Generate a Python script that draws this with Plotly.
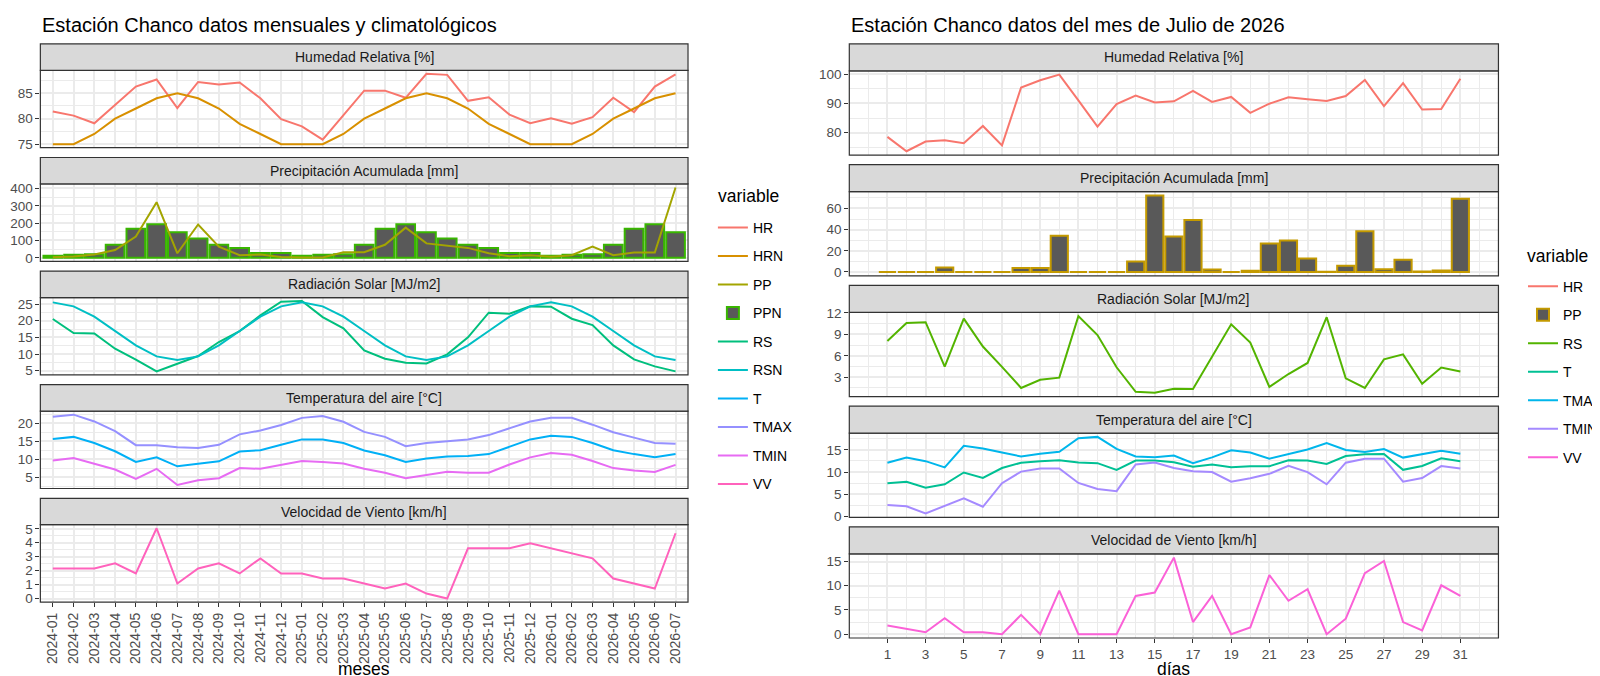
import plotly.graph_objects as go

# ---------------- DATA: monthly (left) ----------------
months = ["2024-01", "2024-02", "2024-03", "2024-04", "2024-05", "2024-06", "2024-07",
          "2024-08", "2024-09", "2024-10", "2024-11", "2024-12", "2025-01", "2025-02",
          "2025-03", "2025-04", "2025-05", "2025-06", "2025-07", "2025-08", "2025-09",
          "2025-10", "2025-11", "2025-12", "2026-01", "2026-02", "2026-03", "2026-04",
          "2026-05", "2026-06", "2026-07"]
HR = [81.4, 80.6, 79.1, 82.7, 86.3, 87.7, 82.1, 87.2, 86.7, 87.1, 84.0, 79.9, 78.5, 75.9,
      80.8, 85.5, 85.5, 84.1, 88.8, 88.6, 83.5, 84.2, 80.8, 79.1, 80.1, 79.0, 80.3, 84.1,
      81.3, 86.3, 88.7]
HRN = [75, 75, 77, 80, 82, 84, 85, 84, 82, 79, 77, 75, 75, 75, 77, 80, 82, 84, 85, 84, 82,
       79, 77, 75, 75, 75, 77, 80, 82, 84, 85]
PP = [3, 8, 19, 45, 123, 321, 26, 192, 64, 15, 19, 4, 2, 2, 32, 32, 75, 174, 83, 70, 57,
      26, 9, 15, 6, 15, 64, 15, 30, 30, 406]
PPN = [12, 18, 20, 75, 168, 194, 147, 111, 75, 57, 28, 28, 12, 18, 20, 75, 168, 194, 147,
       111, 75, 57, 28, 28, 12, 18, 20, 75, 168, 194, 147]
RS = [20.5, 16.3, 16.2, 11.6, 8.3, 4.8, 7.1, 9.4, 13.6, 16.9, 21.6, 25.7, 25.9, 21.1, 17.7,
      11.1, 8.6, 7.4, 7.2, 9.9, 15.0, 22.4, 22.1, 24.3, 24.2, 20.6, 18.7, 12.6, 8.4, 6.3, 4.8]
RSN = [25.5, 24.3, 21.2, 16.9, 12.6, 9.3, 8.2, 9.3, 12.6, 16.9, 21.2, 24.3, 25.5, 24.3,
       21.2, 16.9, 12.6, 9.3, 8.2, 9.3, 12.6, 16.9, 21.2, 24.3, 25.5, 24.3, 21.2, 16.9,
       12.6, 9.3, 8.2]
T = [15.6, 16.2, 14.5, 12.2, 9.2, 10.5, 8.0, 8.6, 9.4, 12.1, 12.5, 14.0, 15.5, 15.5, 14.5,
     12.4, 11.1, 9.2, 10.2, 10.7, 10.9, 11.4, 13.5, 15.5, 16.5, 16.2, 14.5, 12.5, 11.4, 10.5, 11.4]
TMAX = [21.8, 22.4, 20.5, 17.8, 13.9, 13.9, 13.3, 13.1, 14.0, 16.9, 18.0, 19.5, 21.5, 22.0,
        20.4, 17.6, 16.2, 13.6, 14.5, 14.9, 15.5, 16.7, 18.5, 20.5, 21.5, 21.5, 19.6, 17.5,
        16.0, 14.5, 14.3]
TMIN = [9.6, 10.3, 8.7, 7.1, 4.5, 7.3, 2.8, 4.1, 4.7, 7.5, 7.3, 8.5, 9.5, 9.2, 8.8, 7.3,
        6.2, 4.7, 5.7, 6.5, 6.2, 6.2, 8.5, 10.5, 11.7, 11.2, 9.5, 7.5, 6.8, 6.4, 8.4]
VV = [2.16, 2.16, 2.16, 2.52, 1.8, 5.04, 1.08, 2.16, 2.52, 1.8, 2.88, 1.8, 1.8, 1.44, 1.44,
      1.08, 0.72, 1.08, 0.36, 0.0, 3.6, 3.6, 3.6, 3.96, 3.6, 3.24, 2.88, 1.44, 1.08, 0.72, 4.68]

# ---------------- DATA: daily July 2026 (right) ----------------
days = list(range(1, 32))
day_ticks = list(range(1, 32, 2))
HR_d = [78.6, 73.7, 77.0, 77.4, 76.4, 82.3, 75.7, 95.4, 97.9, 99.8, 91.0, 82.1, 89.8, 92.7,
        90.3, 90.7, 94.3, 90.5, 92.2, 86.8, 89.9, 92.1, 91.4, 90.8, 92.5, 98.0, 89.1, 96.9,
        87.9, 88.1, 98.4]
PP_d = [0, 0, 0, 4.3, 0, 0, 0, 3.7, 3.7, 34.1, 0, 0, 0, 9.8, 72.3, 33.5, 49.1, 2.4, 0, 1.2,
        26.8, 29.8, 12.6, 0.3, 5.8, 38.4, 2.6, 11.5, 0.5, 1.4, 69.2]
RS_d = [8.07, 10.6, 10.7, 4.5, 11.2, 7.3, 4.45, 1.5, 2.65, 2.95, 11.55, 8.9, 4.4, 0.97, 0.84,
        1.4, 1.35, 5.9, 10.4, 7.85, 1.65, 3.45, 5.0, 11.4, 2.85, 1.5, 5.5, 6.2, 2.1, 4.37, 3.8]
T_d = [7.5, 7.8, 6.5, 7.25, 9.9, 8.7, 10.9, 12.1, 12.45, 12.65, 12.15, 12.0, 10.5, 12.6,
       12.6, 12.2, 11.2, 11.7, 11.1, 11.3, 11.3, 12.65, 12.6, 11.8, 13.6, 14.0, 14.05, 10.5,
       11.35, 13.1, 12.45]
TMAX_d = [12.1, 13.25, 12.45, 11.05, 15.9, 15.3, 14.4, 13.5, 14.1, 14.55, 17.6, 17.9, 15.2,
          13.5, 13.3, 13.7, 12.0, 13.3, 14.9, 14.4, 13.0, 13.95, 15.05, 16.5, 14.95, 14.5,
          15.15, 13.25, 14.0, 14.8, 14.1]
TMIN_d = [2.6, 2.3, 0.7, 2.4, 4.1, 2.2, 7.5, 10.1, 10.8, 10.8, 7.55, 6.2, 5.7, 11.7, 12.15,
          10.9, 10.2, 10.0, 7.85, 8.6, 9.6, 11.4, 10.0, 7.25, 12.1, 13.0, 13.0, 7.85, 8.65,
          11.35, 10.8]
VV_d = [1.8, 1.1, 0.4, 3.3, 0.4, 0.4, 0.0, 4.0, 0.0, 9.0, 0.0, 0.0, 0.0, 7.9, 8.6, 15.8,
        2.5, 7.9, 0.0, 1.4, 12.2, 6.9, 9.3, 0.0, 3.2, 12.6, 15.1, 2.5, 0.8, 10.1, 7.9]

facet_titles = ["Humedad Relativa [%]", "Precipitación Acumulada [mm]",
                "Radiación Solar [MJ/m2]", "Temperatura del aire [°C]",
                "Velocidad de Viento [km/h]"]

col_left = {"HR": "#F8766D", "HRN": "#D89000", "PP": "#A3A500", "PPN": "#39B600",
            "RS": "#00BF7D", "RSN": "#00BFC4", "T": "#00B0F6", "TMAX": "#9590FF",
            "TMIN": "#E76BF3", "VV": "#FF62BC"}
col_right = {"HR": "#F8766D", "PP": "#C49A00", "RS": "#53B400", "T": "#00C094",
             "TMAX": "#00B6EB", "TMIN": "#A58AFF", "VV": "#FB61D7"}

W, H = 1600, 676
FONT = "Liberation Sans, Arial, sans-serif"
GRID = "#EBEBEB"
DARK = "#333333"


def fx(p):
    return p / W


def fy(p):
    return 1 - p / H


fig = go.Figure()
layout = {}
shapes = []
annotations = []

# geometry (pixels)
LX = (32.5, 683.0)
RX = (845.0, 1497.0)
left_geom = [(29.5 + 116.0 * k, 27.0, 79.0) for k in range(5)]
right_geom = [(29.5 + 123.3 * k, 27.5, 86.0) for k in range(5)]

left_series = [
    [("HR", HR, "line"), ("HRN", HRN, "line")],
    [("PP", PP, "line"), ("PPN", PPN, "bar")],
    [("RS", RS, "line"), ("RSN", RSN, "line")],
    [("T", T, "line"), ("TMAX", TMAX, "line"), ("TMIN", TMIN, "line")],
    [("VV", VV, "line")],
]
right_series = [
    [("HR", HR_d, "line")],
    [("PP", PP_d, "bar")],
    [("RS", RS_d, "line")],
    [("T", T_d, "line"), ("TMAX", TMAX_d, "line"), ("TMIN", TMIN_d, "line")],
    [("VV", VV_d, "line")],
]
left_dtick = [5, 100, 5, 5, 1]
right_dtick = [10, 20, 3, 5, 5]


def yrange(series, bar):
    vals = [v for s in series for v in s[1]]
    mn, mx = min(vals), max(vals)
    if bar:
        mn = min(mn, 0)
    d = (mx - mn) * 0.05
    return [mn - d, mx + d]


left_rank = {n: i for i, n in enumerate(col_left)}
right_rank = {n: i for i, n in enumerate(col_right)}


def add_panel(idx, k, xgeom, geom, series, colors, ranks, legend, is_left, dtick, last):
    top, sh, ph = geom
    xs = "" if idx == 1 else str(idx)
    xa, ya = "x" + xs, "y" + xs
    has_bar = any(s[2] == "bar" for s in series)
    for name, vals, kind in series:
        xv = months if is_left else days
        if kind == "bar":
            tr = go.Bar(x=xv, y=vals, name=name, width=0.9,
                        marker=dict(color="#595959",
                                    line=dict(color=colors[name], width=2)),
                        xaxis=xa, yaxis=ya, legend=legend, legendrank=ranks[name],
                        legendgroup=name + legend)
        else:
            tr = go.Scatter(x=xv, y=vals, name=name, mode="lines",
                            line=dict(color=colors[name], width=2),
                            xaxis=xa, yaxis=ya, legend=legend, legendrank=ranks[name],
                            legendgroup=name + legend)
        fig.add_trace(tr)
    ptop = top + sh
    pbot = ptop + ph
    xdict = dict(domain=[fx(xgeom[0]), fx(xgeom[1])], anchor=ya,
                 showgrid=True, gridcolor=GRID, gridwidth=2, zeroline=False,
                 showline=False, ticks="outside" if last else "",
                 ticklen=4, tickwidth=1.2, tickcolor=DARK,
                 showticklabels=last,
                 tickfont=dict(family=FONT, size=14 if is_left else 13.5, color="#4D4D4D"))
    if is_left:
        xdict.update(type="category", categoryorder="array", categoryarray=months,
                     range=[-0.6, len(months) - 0.4], tickangle=-90)
    else:
        xdict.update(type="linear", range=[-0.995, 32.995], tickvals=day_ticks,
                     minor=dict(dtick=1, tick0=0, showgrid=True, gridcolor=GRID,
                                gridwidth=1, ticks=""))
    ydict = dict(domain=[fy(pbot), fy(ptop)], anchor=xa, range=yrange(series, has_bar),
                 tick0=0, dtick=dtick, showgrid=True, gridcolor=GRID, gridwidth=2,
                 zeroline=False, showline=False, ticks="outside", ticklen=4,
                 tickwidth=1.2, tickcolor=DARK,
                 tickfont=dict(family=FONT, size=13.5, color="#4D4D4D"),
                 minor=dict(dtick=dtick / 2, tick0=0, showgrid=True, gridcolor=GRID,
                            gridwidth=1, ticks=""))
    layout["xaxis" + xs] = xdict
    layout["yaxis" + xs] = ydict
    # panel border
    shapes.append(dict(type="rect", xref="paper", yref="paper",
                       x0=fx(xgeom[0]), x1=fx(xgeom[1]), y0=fy(pbot), y1=fy(ptop),
                       line=dict(color=DARK, width=1.2), fillcolor="rgba(0,0,0,0)",
                       layer="above"))
    # strip
    shapes.append(dict(type="rect", xref="paper", yref="paper",
                       x0=fx(xgeom[0]), x1=fx(xgeom[1]), y0=fy(ptop), y1=fy(top),
                       line=dict(color=DARK, width=1.2), fillcolor="#D9D9D9",
                       layer="above"))
    annotations.append(dict(xref="paper", yref="paper",
                            x=fx((xgeom[0] + xgeom[1]) / 2), y=fy(top + sh / 2),
                            text=facet_titles[k], showarrow=False,
                            xanchor="center", yanchor="middle",
                            font=dict(family=FONT, size=14, color="#1A1A1A")))


for k in range(5):
    add_panel(k + 1, k, LX, left_geom[k], left_series[k], col_left, left_rank,
              "legend", True, left_dtick[k], k == 4)
for k in range(5):
    add_panel(k + 6, k, RX, right_geom[k], right_series[k], col_right, right_rank,
              "legend2", False, right_dtick[k], k == 4)

# titles
annotations += [
    dict(xref="paper", yref="paper", x=fx(LX[0]), y=fy(10), xanchor="left", yanchor="middle",
         text="Estación Chanco datos mensuales y climatológicos", showarrow=False,
         font=dict(family=FONT, size=20, color="black")),
    dict(xref="paper", yref="paper", x=fx(RX[0]), y=fy(10), xanchor="left", yanchor="middle",
         text="Estación Chanco datos del mes de Julio de 2026", showarrow=False,
         font=dict(family=FONT, size=20, color="black")),
    dict(xref="paper", yref="paper", x=fx((LX[0] + LX[1]) / 2), y=fy(668),
         xanchor="center", yanchor="middle", text="meses", showarrow=False,
         font=dict(family=FONT, size=17.5, color="black")),
    dict(xref="paper", yref="paper", x=fx((RX[0] + RX[1]) / 2), y=fy(668),
         xanchor="center", yanchor="middle", text="días", showarrow=False,
         font=dict(family=FONT, size=17.5, color="black")),
    dict(xref="paper", yref="paper", x=fx(711), y=fy(185), xanchor="left", yanchor="middle",
         text="variable", showarrow=False, font=dict(family=FONT, size=17.5, color="black")),
    dict(xref="paper", yref="paper", x=fx(1524), y=fy(246), xanchor="left", yanchor="middle",
         text="variable", showarrow=False, font=dict(family=FONT, size=17.5, color="black")),
]

legend_common = dict(font=dict(family=FONT, size=14, color="black"),
                     bgcolor="rgba(0,0,0,0)", traceorder="grouped", tracegroupgap=7.3,
                     itemwidth=30, xanchor="left", yanchor="top")

layout.update(
    width=W, height=H, margin=dict(l=0, r=0, t=0, b=0),
    paper_bgcolor="white", plot_bgcolor="white",
    font=dict(family=FONT),
    showlegend=True,
    legend=dict(legend_common, x=fx(708), y=fy(201)),
    legend2=dict(legend_common, x=fx(1522), y=fy(261)),
    shapes=shapes, annotations=annotations, bargap=0.1,
)
fig.update_layout(**layout)
fig.write_html("out.html")
